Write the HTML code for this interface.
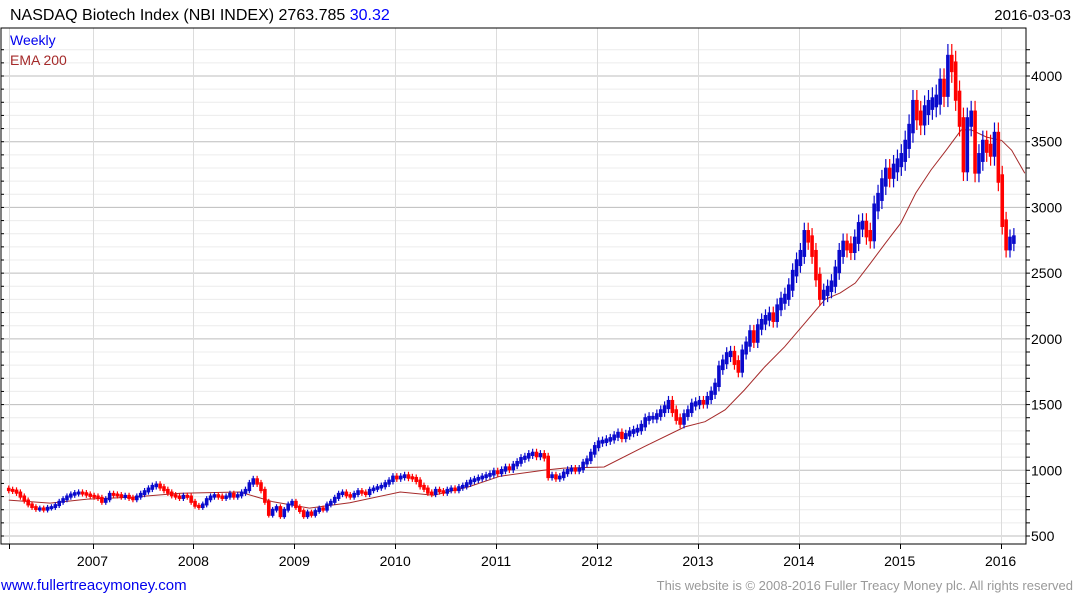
<!DOCTYPE html>
<html><head><meta charset="utf-8"><style>
body{margin:0;background:#fff;width:1075px;height:600px;overflow:hidden;font-family:"Liberation Sans","DejaVu Sans",sans-serif}
svg{display:block}
</style></head><body>
<svg id="chart" width="1075" height="600" xmlns="http://www.w3.org/2000/svg">
<text x="10" y="20" font-size="16" fill="#000">NASDAQ Biotech Index (NBI INDEX) 2763.785 <tspan fill="#0000ff">30.32</tspan></text>
<text x="1071" y="20" font-size="15" text-anchor="end" fill="#000">2016-03-03</text>
<g id="grid"></g>
<g id="ema"></g>
<g id="bars"></g>
<g id="axes"></g>
<text x="10" y="45" font-size="14" fill="#0000ee">Weekly</text>
<text x="10" y="65" font-size="14" fill="#a52a2a">EMA 200</text>
<text x="1" y="590" font-size="15" fill="#0000ee">www.fullertreacymoney.com</text>
<text x="1073" y="590" font-size="13" text-anchor="end" fill="#999">This website is © 2008-2016 Fuller Treacy Money plc. All rights reserved</text>
</svg>
<script>
const startYear = 2006.17;
const step = 1/26;
const closes = [
850,845,830,800,770,740,720,705,710,700,715,720,735,760,780,800,815,825,830,825,815,805,800,790,760,780,
820,815,810,800,805,790,780,800,820,840,860,880,890,870,850,830,810,800,790,805,800,760,730,720,740,780,
800,810,800,790,800,820,800,810,830,850,900,930,900,850,760,660,700,720,650,700,740,760,720,690,650,680,
660,690,710,700,740,760,790,820,830,810,800,820,840,830,820,850,860,870,880,900,920,950,940,950,960,945,
940,920,880,860,830,820,850,840,830,850,860,850,870,880,900,920,930,940,950,960,970,990,980,1000,1020,1010,
1040,1060,1090,1100,1120,1130,1110,1120,1100,950,960,940,950,980,1000,1010,1000,1010,1055,1080,1130,1180,1215,1220,1230,1240,
1260,1280,1250,1270,1290,1300,1310,1340,1390,1400,1400,1420,1450,1480,1520,1450,1390,1360,1420,1450,1500,1510,1520,1515,1550,1590,
1650,1780,1825,1880,1890,1820,1760,1900,1960,2045,1990,2090,2130,2160,2180,2150,2240,2290,2320,2390,2500,2580,2650,2800,2760,2650,
2470,2320,2350,2380,2420,2525,2650,2720,2700,2680,2750,2860,2870,2800,2770,3000,3080,3190,3270,3250,3300,3340,3380,3480,3600,3780,
3700,3660,3740,3780,3800,3820,3940,3880,4120,4070,3850,3650,3300,3650,3700,3290,3380,3480,3450,3420,3540,3220,2880,2700,2750,2760
];
const emaYears = [2006.17,2006.58,2006.95,2007.4,2007.87,2008.46,2008.79,2009.15,2009.55,2010.05,2010.38,2010.72,2011.04,2011.47,2011.67,2012.07,2012.47,2012.87,2013.07,2013.27,2013.46,2013.66,2013.86,2014.06,2014.26,2014.41,2014.56,2014.71,2014.86,2015.01,2015.16,2015.31,2015.46,2015.61,2015.71,2015.86,2016.01,2016.11,2016.24];
const emaVals = [773,750,781,796,826,835,760,712,753,835,810,872,955,1000,1017,1025,1180,1330,1370,1460,1610,1785,1940,2120,2300,2350,2425,2575,2730,2880,3110,3285,3435,3590,3590,3535,3510,3435,3260];
const yTicks = [4000,3500,3000,2500,2000,1500,1000,500];
const years = [2007,2008,2009,2010,2011,2012,2013,2014,2015,2016];

const NS="http://www.w3.org/2000/svg";
const L=1,R=1026,T=28,B=544;
function xs(yr){return 92.5+(yr-2007)*100.9;}
function ys(v){return 76+(4000-v)*0.13143;}
function mk(tag,attrs,parent){const e=document.createElementNS(NS,tag);for(const k in attrs)e.setAttribute(k,attrs[k]);parent.appendChild(e);return e;}
const grid=document.getElementById('grid'),axes=document.getElementById('axes'),bars=document.getElementById('bars'),emaG=document.getElementById('ema');

for(let v=400;v<=4200;v+=100){
  const y=ys(v); if(y<T||y>B) continue;
  const major=v%500===0;
  const ln=mk('line',{x1:L,x2:R,y1:y,y2:y,stroke:major?'#bdbdbd':'#ececec','stroke-width':1},grid);
  
  
  const tk=mk('line',{x1:R,x2:R+4,y1:y,y2:y,stroke:'#000'},axes);
  
  
  const lt=mk('line',{x1:L,x2:L+3,y1:y,y2:y,stroke:'#000'},axes);
  
  
}
yTicks.forEach(v=>{
  const t=mk('text',{x:R+5,y:ys(v)+5,'font-size':14,fill:'#000'},axes);
  t.textContent=v;
  
  
});
[startYear].concat(years).forEach(yr=>{
  const x=Math.round(xs(yr))+0.5;
  const g=mk('line',{x1:x,x2:x,y1:T,y2:B,stroke:'#dcdcdc'},grid);
  
  
  const t=mk('line',{x1:x,x2:x,y1:B,y2:B+5,stroke:'#000'},axes);
  
  
});
years.forEach(yr=>{
  const t=mk('text',{x:xs(yr),y:566,'font-size':14,'text-anchor':'middle',fill:'#000'},axes);
  t.textContent=yr;
  
  
});
const frame=mk('path',{d:`M${L} ${T} H${R} V${B} H${L} Z`,fill:'none',stroke:'#000','stroke-width':1},axes);



let pts=emaYears.map((yr,i)=>xs(yr).toFixed(1)+','+ys(emaVals[i]).toFixed(1)).join(' ');
const emaLine=mk('polyline',{points:pts,fill:'none',stroke:'#a52a2a','stroke-width':1},emaG);



closes.forEach((c,i)=>{
  const prev=i===0?c*1.01:closes[i-1];
  const up=c>=prev;
  const hi=Math.max(prev,c)*1.03, lo=Math.min(prev,c)*0.97;
  const x=xs(startYear+i*step);
  const col=up?'#0a0acc':'#ff0000';
  const top=ys(Math.max(prev,c)*1.01), bot=ys(Math.min(prev,c)*0.99);
  const b=mk('rect',{x:x-1.8,y:top,width:3.6,height:Math.max(3,bot-top),fill:col},bars);
  
  
  const w=mk('line',{x1:x,x2:x,y1:ys(hi),y2:ys(lo),stroke:col,'stroke-width':1.2},bars);
  
  
});
</script>
</body></html>
